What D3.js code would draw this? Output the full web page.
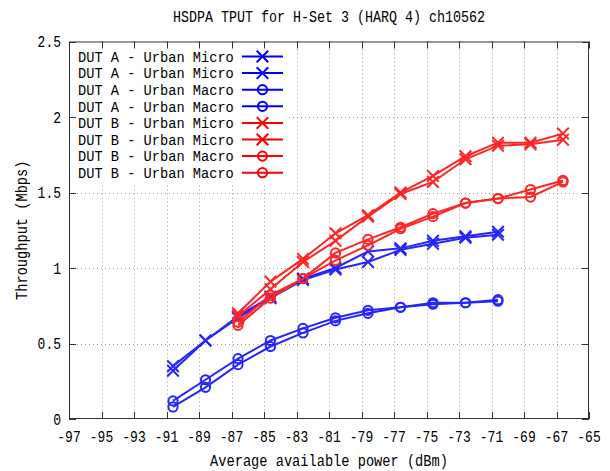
<!DOCTYPE html>
<html>
<head>
<meta charset="utf-8">
<script src="https://cdn.jsdelivr.net/npm/d3@7"></script>
<style>
  html, body { margin: 0; padding: 0; background: #fff; }
  svg { display: block; }
  text { font-family: "Liberation Mono", "DejaVu Sans Mono", monospace; fill: #000; }
</style>
</head>
<body>
<svg id="chart" width="610" height="471"></svg>
<script>
// ---- data ----
const titleText = "HSDPA TPUT for H-Set 3 (HARQ 4) ch10562";
const xLabelText = "Average available power (dBm)";
const yLabelText = "Throughput (Mbps)";

const xTicks = [-97,-95,-93,-91,-89,-87,-85,-83,-81,-79,-77,-75,-73,-71,-69,-67,-65];
const yTicks = [0, 0.5, 1, 1.5, 2, 2.5];
const yTickLabels = ["0", "0.5", "1", "1.5", "2", "2.5"];

const powerA = [-90.6,-88.6,-86.6,-84.6,-82.6,-80.6,-78.6,-76.6,-74.6,-72.6,-70.6];
const powerB = [-86.6,-84.6,-82.6,-80.6,-78.6,-76.6,-74.6,-72.6,-70.6,-68.6,-66.6];

const aMicro1 = [0.35,0.52,0.68,0.81,0.93,1.00,1.11,1.13,1.18,1.21,1.24];
const aMicro2 = [0.32,0.52,0.67,0.80,0.92,0.99,1.04,1.12,1.16,1.20,1.22];
const aMacro1 = [0.12,0.26,0.40,0.52,0.60,0.67,0.72,0.74,0.77,0.77,0.79];
const aMacro2 = [0.08,0.21,0.36,0.48,0.57,0.65,0.70,0.74,0.76,0.77,0.78];
const bMicro1 = [0.70,0.91,1.06,1.23,1.35,1.50,1.61,1.74,1.83,1.83,1.89];
const bMicro2 = [0.68,0.86,1.04,1.18,1.34,1.49,1.57,1.72,1.81,1.82,1.85];
const bMacro1 = [0.64,0.82,0.93,1.10,1.19,1.27,1.36,1.43,1.46,1.52,1.58];
const bMacro2 = [0.62,0.80,0.93,1.05,1.15,1.26,1.34,1.43,1.46,1.47,1.57];

const seriesNames = [
  "DUT A - Urban Micro", "DUT A - Urban Micro",
  "DUT A - Urban Macro", "DUT A - Urban Macro",
  "DUT B - Urban Micro", "DUT B - Urban Micro",
  "DUT B - Urban Macro", "DUT B - Urban Macro"
];
const seriesX = [powerA, powerA, powerA, powerA, powerB, powerB, powerB, powerB];
const seriesY = [aMicro1, aMicro2, aMacro1, aMacro2, bMicro1, bMicro2, bMacro1, bMacro2];
const seriesMarker = ["cross","cross","circle","circle","cross","cross","circle","circle"];
const seriesColor = ["#0000ff","#0000ff","#0000ff","#0000ff","#ff0000","#ff0000","#ff0000","#ff0000"];

// ---- layout ----
const svg = d3.select("#chart");
const L = 69, R = 589, T = 41.5, B = 419;
const charW = 8.2;
const fontSize = 16.5;

const x = d3.scaleLinear().domain([-97, -65]).range([L, R]);
const y = d3.scaleLinear().domain([0, 2.5]).range([B, T]);

function mono(sel, str, cw, fs) {
  sel.text(str)
     .attr("font-size", fs || fontSize)
     .attr("textLength", str.length * (cw || charW))
     .attr("lengthAdjust", "spacingAndGlyphs");
  return sel;
}

// grid
const grid = svg.append("g").attr("stroke", "#9a9a9a").attr("stroke-width", 1)
  .attr("stroke-dasharray", "1,3");
grid.selectAll("line.gx").data(xTicks.slice(1, -1)).join("line")
  .attr("x1", d => Math.round(x(d)) + 0.5).attr("x2", d => Math.round(x(d)) + 0.5)
  .attr("y1", T).attr("y2", B);
grid.selectAll("line.gy").data(yTicks.slice(1, -1)).join("line")
  .attr("x1", L).attr("x2", R)
  .attr("y1", d => Math.round(y(d)) + 0.5).attr("y2", d => Math.round(y(d)) + 0.5);

// legend background (opaque key)
const legX0 = 70, legY0 = 42, legRowH = 16.6, legRow0 = 56.5;
svg.append("rect").attr("x", legX0).attr("y", legY0)
  .attr("width", 219).attr("height", legRow0 + legRowH * 7.6 - legY0)
  .attr("fill", "#fff");

// axes (ticks mirrored inside, gnuplot-like)
const tickLen = 7;
const axes = svg.append("g").attr("stroke", "#333").attr("stroke-width", 1).attr("fill", "none");
axes.append("rect").attr("x", L + 0.5).attr("y", T + 0.5)
  .attr("width", R - L - 1).attr("height", B - T - 1);
axes.selectAll("line.bt").data(xTicks).join("line")
  .attr("x1", d => Math.round(x(d)) + 0.5).attr("x2", d => Math.round(x(d)) + 0.5)
  .attr("y1", B).attr("y2", B - tickLen);
axes.selectAll("line.tt").data(xTicks).join("line")
  .attr("x1", d => Math.round(x(d)) + 0.5).attr("x2", d => Math.round(x(d)) + 0.5)
  .attr("y1", T).attr("y2", T + tickLen);
axes.selectAll("line.lt").data(yTicks).join("line")
  .attr("x1", L).attr("x2", L + tickLen)
  .attr("y1", d => Math.round(y(d)) + 0.5).attr("y2", d => Math.round(y(d)) + 0.5);
axes.selectAll("line.rt").data(yTicks).join("line")
  .attr("x1", R).attr("x2", R - tickLen)
  .attr("y1", d => Math.round(y(d)) + 0.5).attr("y2", d => Math.round(y(d)) + 0.5);

// tick labels
svg.append("g").selectAll("text").data(xTicks).join("text")
  .each(function(d) { mono(d3.select(this), String(d), 7.8); })
  .attr("x", d => x(d)).attr("y", 442).attr("text-anchor", "middle");
svg.append("g").selectAll("text").data(yTicks).join("text")
  .each(function(d, i) { mono(d3.select(this), yTickLabels[i], 7.8); })
  .attr("x", 61).attr("y", d => y(d) + 5.5).attr("text-anchor", "end");

// titles
mono(svg.append("text"), titleText, 8.0).attr("x", (L + R) / 2).attr("y", 22).attr("text-anchor", "middle");
mono(svg.append("text"), xLabelText).attr("x", (L + R) / 2).attr("y", 466).attr("text-anchor", "middle");
mono(svg.append("text"), yLabelText)
  .attr("transform", `translate(27,${(T + B) / 2}) rotate(-90)`).attr("text-anchor", "middle");

// markers
function drawMarker(g, type, cx, cy, color) {
  if (type === "cross") {
    const s = 5.8;
    g.append("path").attr("d", `M${cx - s},${cy - s}L${cx + s},${cy + s}M${cx - s},${cy + s}L${cx + s},${cy - s}`)
      .attr("stroke", color).attr("stroke-width", 2).attr("fill", "none");
  } else {
    g.append("circle").attr("cx", cx).attr("cy", cy).attr("r", 4.6)
      .attr("stroke", color).attr("stroke-width", 2).attr("fill", "none");
  }
}

// series
const line = d3.line().x(d => x(d[0])).y(d => y(d[1]));
const plot = svg.append("g").attr("opacity", 0.85);
seriesY.forEach((vals, i) => {
  const pts = vals.map((v, j) => [seriesX[i][j], v]);
  const g = plot.append("g");
  g.append("path").attr("d", line(pts)).attr("fill", "none")
    .attr("stroke", seriesColor[i]).attr("stroke-width", 2);
  pts.forEach(p => drawMarker(g, seriesMarker[i], x(p[0]), y(p[1]), seriesColor[i]));
});

// legend entries
const leg = svg.append("g");
seriesNames.forEach((name, i) => {
  const cy = legRow0 + i * legRowH;
  mono(leg.append("text"), name, charW, 14.5).attr("x", 78).attr("y", cy + 5.2);
  leg.append("line").attr("x1", 242).attr("x2", 283).attr("y1", cy).attr("y2", cy)
    .attr("stroke", seriesColor[i]).attr("stroke-width", 2);
  drawMarker(leg, seriesMarker[i], 262.5, cy, seriesColor[i]);
});
</script>
</body>
</html>
